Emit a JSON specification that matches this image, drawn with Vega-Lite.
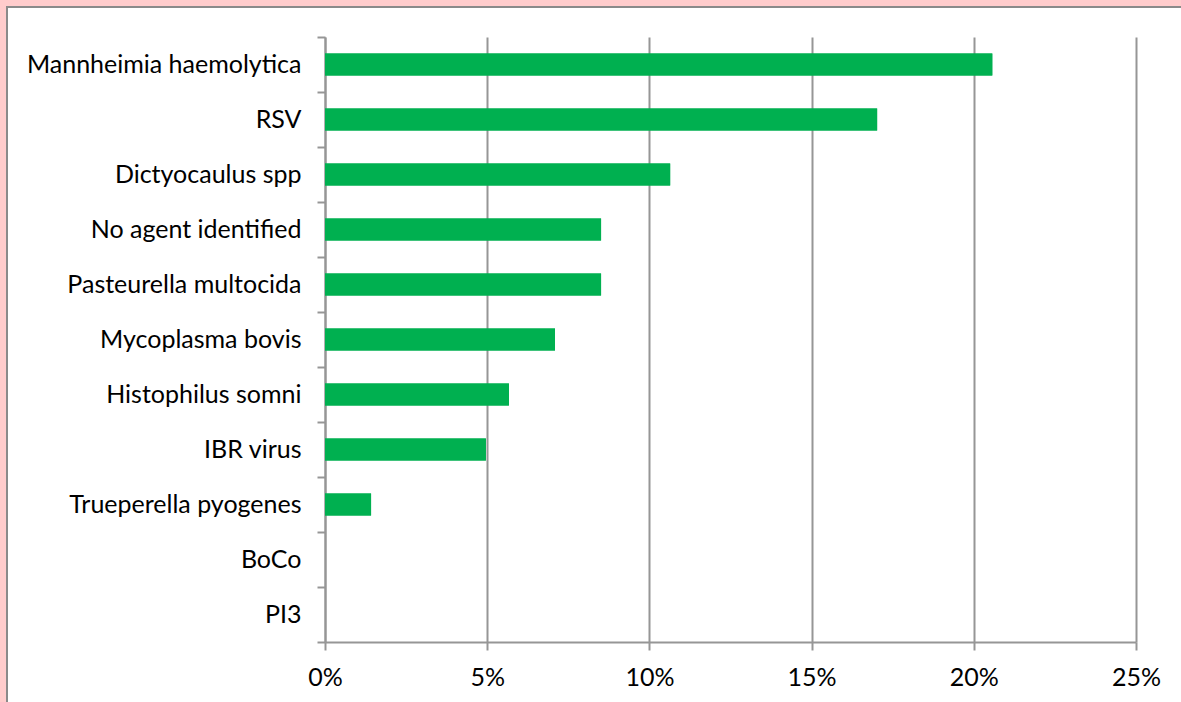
{
  "$schema": "https://vega.github.io/schema/vega-lite/v6.json",
  "width": 1174,
  "height": 695,
  "autosize": {"type": "none"},
  "padding": {"left": 7, "top": 7, "right": 0, "bottom": 0},
  "background": "#FFCCCC",
  "config": {
    "view": {"fill": "white", "stroke": "#8a8a8a", "strokeWidth": 2, "strokeDash": [1174, 1869, 696, 1]},
    "axis": {"labelFont": "Lato", "labelFontSize": 25, "labelColor": "black", "labelLimit": 0}
  },
  "data": {
    "values": [
      {"agent": "Mannheimia haemolytica", "share": 0.2057},
      {"agent": "RSV", "share": 0.1702},
      {"agent": "Dictyocaulus spp", "share": 0.1064},
      {"agent": "No agent identified", "share": 0.0851},
      {"agent": "Pasteurella multocida", "share": 0.0851},
      {"agent": "Mycoplasma bovis", "share": 0.0709},
      {"agent": "Histophilus somni", "share": 0.0567},
      {"agent": "IBR virus", "share": 0.0496},
      {"agent": "Trueperella pyogenes", "share": 0.0142},
      {"agent": "BoCo", "share": 0},
      {"agent": "PI3", "share": 0}
    ]
  },
  "encoding": {
    "y": {
      "field": "agent",
      "type": "nominal",
      "sort": null,
      "scale": {"range": [30, 635], "paddingInner": 0, "paddingOuter": 0},
      "axis": {
        "title": null,
        "offset": -318,
        "tickBand": "extent",
        "grid": false,
        "domainColor": "#969696",
        "domainWidth": 2,
        "tickColor": "#969696",
        "tickWidth": 2,
        "tickSize": 8,
        "labelPadding": 16
      }
    },
    "x": {
      "field": "share",
      "type": "quantitative",
      "scale": {"domain": [0, 0.25], "range": [318, 1129], "nice": false}
    }
  },
  "layer": [
    {
      "mark": {"type": "bar", "color": "#00B050", "height": {"band": 0.4}},
      "encoding": {
        "x": {
          "field": "share",
          "type": "quantitative",
          "axis": {
            "orient": "top",
            "values": [0, 0.05, 0.1, 0.15, 0.2, 0.25],
            "grid": true,
            "gridColor": "#969696",
            "gridWidth": 2,
            "labels": false,
            "ticks": false,
            "domain": false,
            "title": null
          }
        }
      }
    },
    {
      "mark": {"type": "bar", "color": "#00B050", "height": {"band": 0.4}},
      "encoding": {
        "x": {
          "field": "share",
          "type": "quantitative",
          "axis": {
            "orient": "bottom",
            "title": null,
            "format": "%",
            "values": [0, 0.05, 0.1, 0.15, 0.2, 0.25],
            "offset": -60,
            "grid": false,
            "labelFlush": false,
            "domainColor": "#969696",
            "domainWidth": 2,
            "tickColor": "#969696",
            "tickWidth": 2,
            "tickSize": 8,
            "labelPadding": 15
          }
        }
      }
    }
  ],
  "resolve": {"axis": {"x": "independent"}}
}
